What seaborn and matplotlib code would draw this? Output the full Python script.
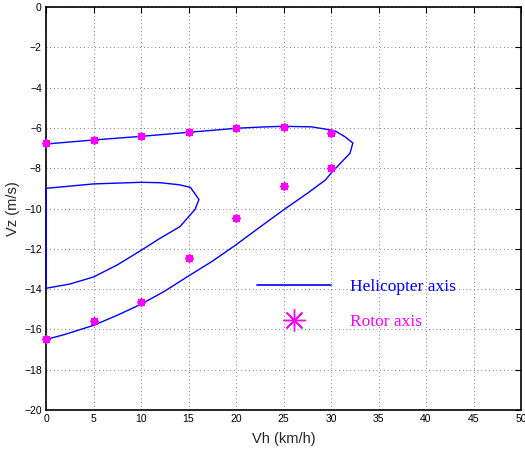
import matplotlib
matplotlib.use("Agg")
import matplotlib.pyplot as plt
from matplotlib.lines import Line2D
import seaborn as sns
import pandas as pd

# Helicopter axis: outer boundary curve
outer_vh = [0, 2, 5, 7.5, 10, 12.5, 15, 17.5, 20, 22.5, 25, 27.5, 29.4, 30, 31,
            32, 32.3, 31.5, 30.4, 28, 25, 22.5, 20, 15, 10, 5, 0]
outer_vz = [-16.5, -16.25, -15.8, -15.3, -14.75, -14.1, -13.35, -12.62, -11.8,
            -10.93, -10.07, -9.25, -8.59, -8.25, -7.75, -7.26, -6.75, -6.45,
            -6.14, -5.95, -5.92, -5.96, -6.02, -6.22, -6.42, -6.6, -6.8]

# Helicopter axis: inner boundary curve
inner_vh = [0, 5, 10, 12, 14, 15.2, 16.1, 15.7, 14.1, 12, 10, 7.5, 5, 2.5, 0, 0]
inner_vz = [-9.0, -8.78, -8.7, -8.72, -8.82, -8.95, -9.55, -10.04, -10.9,
            -11.48, -12.08, -12.8, -13.4, -13.75, -13.96, -9.0]

# Rotor axis points
rotor_vh = [0, 5, 10, 15, 20, 25, 30, 30, 25, 20, 15, 10, 5, 0]
rotor_vz = [-6.75, -6.6, -6.4, -6.2, -6.0, -5.95, -6.25, -8.0, -8.87, -10.47,
            -12.47, -14.65, -15.6, -16.5]

x_ticks = list(range(0, 51, 5))
y_ticks = list(range(-20, 1, 2))

sns.set_theme(style="white")
plt.rcParams['font.family'] = ['Liberation Sans', 'DejaVu Sans']

fig = plt.figure(figsize=(5.25, 4.55), dpi=100)
ax = fig.add_axes([46/525, 1-410/455, 475/525, 403/455])

outer = pd.DataFrame({"vh": outer_vh, "vz": outer_vz})
inner = pd.DataFrame({"vh": inner_vh, "vz": inner_vz})
rotor = pd.DataFrame({"vh": rotor_vh, "vz": rotor_vz})

blue = "#0000ff"
mag = "#ff00ff"
ast = (8, 2, 0)

sns.lineplot(data=outer, x="vh", y="vz", sort=False, estimator=None, color=blue,
             linewidth=1.0, ax=ax)
sns.lineplot(data=inner, x="vh", y="vz", sort=False, estimator=None, color=blue,
             linewidth=1.0, ax=ax, clip_on=False, zorder=3)
sns.scatterplot(data=rotor, x="vh", y="vz", marker=ast, color=mag, s=24,
                linewidth=1.4, ax=ax, zorder=4, clip_on=False)

ax.set_xlim(0, 50)
ax.set_ylim(-20, 0)
ax.set_xticks(x_ticks)
ax.set_yticks(y_ticks)
ax.set_xticklabels([str(v) for v in x_ticks])
ax.set_yticklabels([("\u2212" + str(-v)) if v < 0 else str(v) for v in y_ticks])
ax.tick_params(direction="in", length=4, width=0.8, labelsize=7.5, colors="black",
               top=True, right=True, pad=3)
ax.grid(True, color="#555555", linestyle=(0, (1, 3.5)), linewidth=0.6)
for s in ax.spines.values():
    s.set_color("black")
    s.set_linewidth(1.2)
    s.set_visible(True)

ax.set_xlabel("Vh (km/h)", fontsize=10.5, labelpad=6)
ax.set_ylabel("Vz (m/s)", fontsize=10.5, labelpad=3)

handles = [Line2D([], [], color=blue, linewidth=1.2),
           Line2D([], [], color=mag, marker=ast, markersize=16, linestyle="none",
                  markeredgewidth=1.0)]
leg = ax.legend(handles, ["Helicopter axis", "Rotor axis"], loc="center left",
                bbox_to_anchor=(0.425, 0.262), frameon=False, borderpad=0,
                handlelength=4.3, handletextpad=1.1, labelspacing=1.05,
                prop={"family": "Liberation Serif", "size": 12.5},
                labelcolor=[blue, mag])

fig.savefig("out.png", dpi=100)
